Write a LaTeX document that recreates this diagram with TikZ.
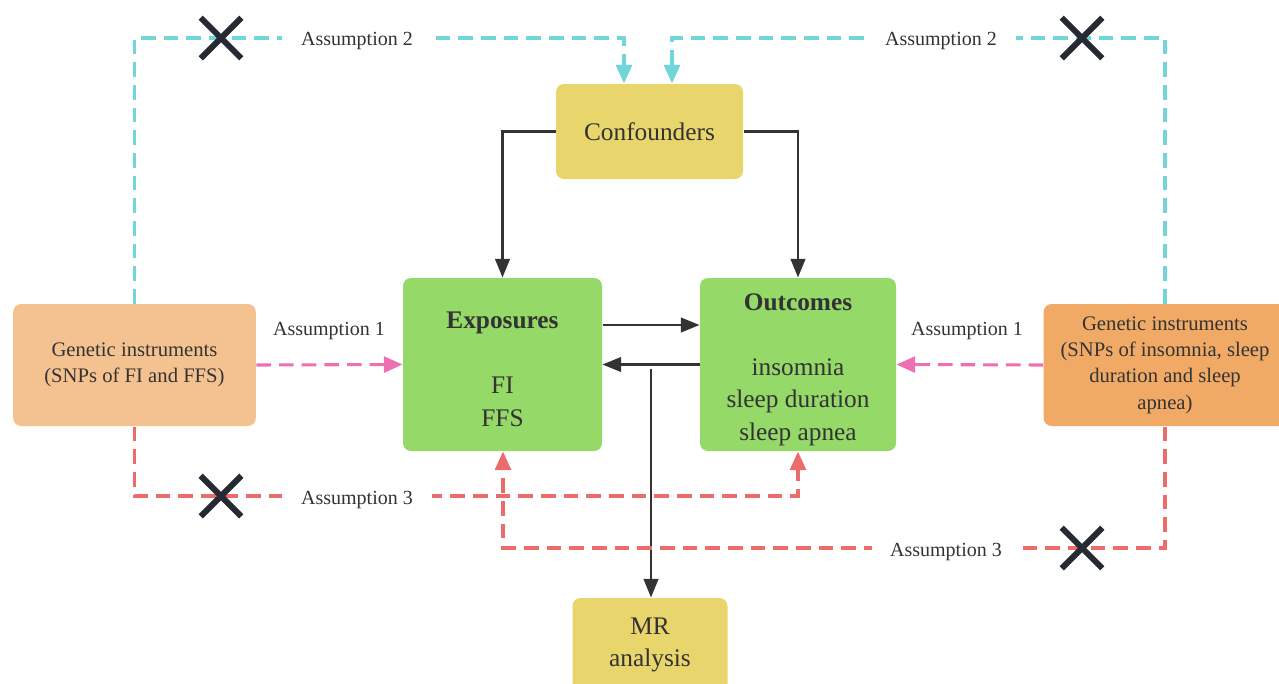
\documentclass[tikz,border=0pt]{standalone}
\usepackage{fontspec}
\setmainfont{Liberation Serif}
\usetikzlibrary{arrows.meta,shapes.misc}

\definecolor{boxyellow}{RGB}{232,213,107}
\definecolor{boxgreen}{RGB}{149,217,104}
\definecolor{genlight}{RGB}{244,194,144}
\definecolor{gendark}{RGB}{240,170,102}
\definecolor{asscyan}{RGB}{112,214,216}
\definecolor{asspink}{RGB}{236,112,178}
\definecolor{assred}{RGB}{236,108,108}
\definecolor{inkgray}{RGB}{51,51,51}
\definecolor{crossgray}{RGB}{38,42,50}

\tikzset{every picture/.style={line width=0.75pt}}
\tikzset{
  box/.style={rounded corners=6pt, align=center, inner sep=0pt, text=inkgray,
    font=\fontsize{19}{24.4}\selectfont},
  genbox/.style={box, font=\fontsize{15.5}{19.7}\selectfont,
    minimum width=182pt, minimum height=91.5pt},
  blackarrow/.style={draw=inkgray, line width=1.6pt, -{Triangle[length=14pt,width=11pt]}},
  assline/.style={line width=2.3pt, dash pattern=on 11pt off 6pt},
  asstip/.style={-{Triangle[length=14pt,width=12pt]}},
  asslabel/.style={text=inkgray, font=\fontsize{15}{18}\selectfont},
  gaplabel/.style={asslabel, fill=white, inner xsep=14pt},
  crossmark/.style={cross out, draw=crossgray, line width=4.5pt, minimum size=26pt, inner sep=0pt}
}

\begin{document}
\begin{tikzpicture}[x=0.75pt,y=0.75pt,yscale=-1,xscale=1]
	\useasboundingbox (0,0) rectangle (1279,683);

	% Text Node
	\node (conf) [box, fill=boxyellow, minimum width=140.25pt, minimum height=71.25pt] at (649.5,131.5) {Confounders};
	% Text Node
	\node (expo) [box, fill=boxgreen, minimum width=149.25pt, minimum height=129.75pt] at (502.5,364.5) {\rule{0pt}{20pt}\textbf{Exposures}\\[24.4pt]FI\\FFS};
	% Text Node
	\node (outc) [box, fill=boxgreen, minimum width=147pt, minimum height=129.75pt] at (798,364.5) {\rule{0pt}{20pt}\textbf{Outcomes}\\[24.4pt]insomnia\\sleep duration\\sleep apnea};
	% Text Node
	\node (givl) [genbox, fill=genlight] at (134.5,365) {Genetic instruments\\(SNPs of FI and FFS)};
	% Text Node
	\node (givr) [genbox, fill=gendark] at (1165,365) {Genetic instruments\\(SNPs of insomnia, sleep\\duration and sleep\\apnea)};
	% Text Node
	\node (mr) [box, fill=boxyellow, minimum width=116.25pt, minimum height=70.5pt] at (650,645) {MR\\analysis};

	\coordinate (c2l) at (624,38);
	\coordinate (c2r) at (672,38);
	\coordinate (c3l) at (798,496);
	\coordinate (c3r) at (503,548);
	\coordinate (fwd) at (602,325);
	\coordinate (mrtop) at (651,369);

	%Straight Lines
	\draw [blackarrow] (conf.west) -| (expo.north);
	\draw [blackarrow] (conf.east) -| (outc.north);
	\draw [blackarrow] (expo.east |- fwd) -- (outc.west |- fwd);
	\draw [blackarrow] (outc.west) -- (expo.east);
	\draw [blackarrow] (mrtop) -- (mrtop |- mr.north);

	%Dashed Lines
	\draw [assline, asstip, draw=asscyan] (givl.north) |- (c2l) -- (c2l |- conf.north);
	\draw [assline, asstip, draw=asscyan] (givr.north) |- (c2r) -- (c2r |- conf.north);
	\draw [assline, asstip, draw=asspink] (givl.east) -- (expo.west);
	\draw [assline, asstip, draw=asspink] (givr.west) -- (outc.east);
	\draw [assline, asstip, draw=assred] (givl.south) |- (c3l) -- (c3l |- outc.south);
	\draw [assline, asstip, draw=assred] (givr.south) |- (c3r) -- (c3r |- expo.south);

	% Text Node
	\node (a2l) [gaplabel] at (357,41) {Assumption 2};
	\node (a2r) [gaplabel] at (941,41) {Assumption 2};
	\node (a1l) [asslabel] at (329,331) {Assumption 1};
	\node (a1r) [asslabel] at (967,331) {Assumption 1};
	\node (a3l) [gaplabel] at (357,500) {Assumption 3};
	\node (a3r) [gaplabel] at (946,552) {Assumption 3};

	% Crosses
	\node (x2l) [crossmark] at (221,38) {};
	\node (x2r) [crossmark] at (1082,38) {};
	\node (x3l) [crossmark] at (221,496) {};
	\node (x3r) [crossmark] at (1082,548) {};

\end{tikzpicture}
\end{document}
